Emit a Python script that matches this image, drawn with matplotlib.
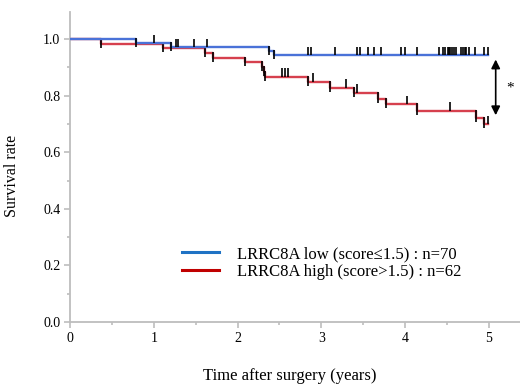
import matplotlib
matplotlib.use("Agg")
import matplotlib.pyplot as plt
from matplotlib.lines import Line2D
import numpy as np

plt.rcParams['font.family'] = ['Liberation Serif', 'DejaVu Serif']

# ---- data ----
end_time = 4.99
blue_event_times = [0.79, 1.20, 2.37, 2.43]
blue_surv = [0.986, 0.972, 0.958, 0.943]
red_event_times = [0.37, 1.11, 1.61, 1.71, 2.09, 2.29, 2.31, 2.33, 2.84, 3.10,
                   3.39, 3.67, 3.77, 4.14, 4.84, 4.94]
red_surv = [0.984, 0.968, 0.952, 0.934, 0.920, 0.902, 0.885, 0.867, 0.849, 0.828,
            0.810, 0.788, 0.769, 0.747, 0.722, 0.700]
blue_censor = [1.00, 1.26, 1.29, 1.48, 1.64, 2.84, 2.88, 3.16, 3.43, 3.46, 3.56,
               3.63, 3.71, 3.95, 4.00, 4.14, 4.40, 4.45, 4.48, 4.51, 4.52, 4.54,
               4.56, 4.58, 4.61, 4.67, 4.69, 4.71, 4.73, 4.76, 4.83, 4.94, 4.99]
red_censor = [2.53, 2.57, 2.60, 2.90, 3.29, 3.43, 4.02, 4.53, 4.99]
labels = ["LRRC8A low (score\u22641.5) : n=70", "LRRC8A high (score>1.5) : n=62"]
xticks = [0, 1, 2, 3, 4, 5]
yticks = [0.0, 0.2, 0.4, 0.6, 0.8, 1.0]
arrow_x, arrow_top, arrow_bottom = 5.08, 0.928, 0.731

blue_line = "#4a72d8"
red_line = "#d6404e"
blue_leg = "#1f72c4"
red_leg = "#c00000"
axis_gray = "#bdbdbd"

fig = plt.figure(figsize=(5.2, 3.86), dpi=100)
ax = fig.add_axes([70/520, 64/386, 450/520, 310/386])
ax.set_xlim(0, 5.37)
ax.set_ylim(0, 1.096)


def km(ax, times, surv, color, censor, z):
    t = np.concatenate([[0.0], times, [end_time]])
    s = np.concatenate([[1.0], surv, [surv[-1]]])
    ax.step(t, s, where='post', color=color, lw=1.7, zorder=z)
    upper = np.concatenate([[1.0], surv[:-1]])
    ax.vlines(times, np.array(surv) - 0.014, upper + 0.004, color='black', lw=1.2, zorder=z + 1)
    c = np.array(censor)
    idx = np.searchsorted(np.array(times), c, side='right')
    lev = np.concatenate([[1.0], surv])[idx]
    ax.vlines(c, lev, lev + 0.03, color='black', lw=1.2, zorder=z + 1)


km(ax, red_event_times, red_surv, red_line, red_censor, 2)
km(ax, blue_event_times, blue_surv, blue_line, blue_censor, 4)

ax.annotate('', xy=(arrow_x, arrow_bottom), xytext=(arrow_x, arrow_top),
            arrowprops=dict(arrowstyle='<|-|>', color='black', lw=1.2,
                            mutation_scale=13, shrinkA=0, shrinkB=0))
ax.text(5.25, 0.827, '*', fontsize=11, ha='center', va='center')

for sp in ['top', 'right']:
    ax.spines[sp].set_visible(False)
for sp in ['left', 'bottom']:
    ax.spines[sp].set_color(axis_gray)
    ax.spines[sp].set_linewidth(1.3)

ax.set_xticks(xticks)
ax.set_xticklabels([str(v) for v in xticks])
ax.set_xticks(np.arange(0.5, 5.4, 1.0), minor=True)
ax.set_yticks(yticks)
ax.set_yticklabels([f"{v:.1f}" for v in yticks])
ax.set_yticks(np.arange(0.1, 1.05, 0.2), minor=True)
ax.tick_params(axis='both', which='major', color=axis_gray, width=1.2, length=4.5,
               labelsize=10, pad=2.5)
ax.tick_params(axis='both', which='minor', color=axis_gray, width=1.2, length=2.5)

ax.set_xlabel('Time after surgery (years)', fontsize=12)
ax.xaxis.set_label_coords(0.489, -0.148)
ax.set_ylabel('Survival rate', fontsize=11.5)
ax.yaxis.set_label_coords(-0.111, 0.472)

handles = [Line2D([], [], color=blue_leg, lw=2.2), Line2D([], [], color=red_leg, lw=2.2)]
ax.legend(handles, labels, loc='upper left', bbox_to_anchor=(0.249, 0.245),
          frameon=False, fontsize=12, handlelength=2.2, handletextpad=1.1,
          labelspacing=0.12, borderpad=0, borderaxespad=0)

fig.savefig('out.png', dpi=100)
